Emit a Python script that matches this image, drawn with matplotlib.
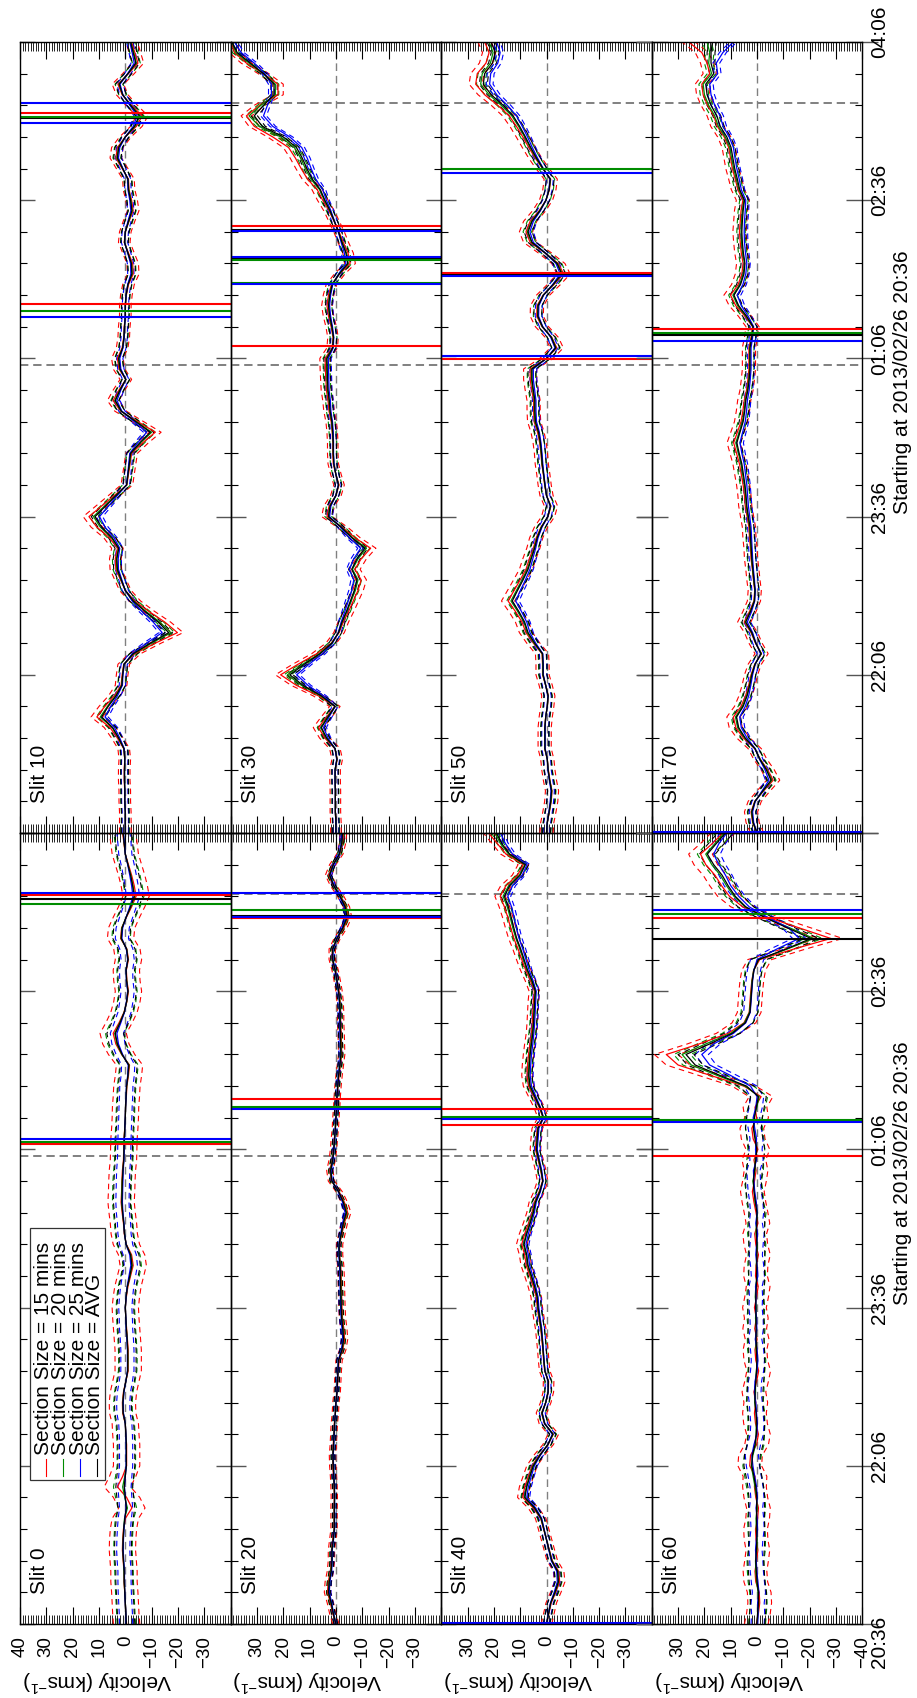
import matplotlib
matplotlib.use("Agg")
import matplotlib.pyplot as plt
from matplotlib.ticker import MultipleLocator
from matplotlib.transforms import blended_transform_factory, offset_copy
from matplotlib.patches import Rectangle
from matplotlib.lines import Line2D
import numpy as np

plt.rcParams['font.family'] = ['Liberation Sans', 'DejaVu Sans']
plt.rcParams['mathtext.fontset'] = 'custom'
plt.rcParams['mathtext.rm'] = 'Liberation Sans'
plt.rcParams['mathtext.it'] = 'Liberation Sans:italic'
plt.rcParams['mathtext.bf'] = 'Liberation Sans:bold'
plt.rcParams['lines.scale_dashes'] = False

# ---------------- data ----------------
minutes = list(range(0, 451, 6))          # minutes after 2013/02/26 20:36
slits = [0, 10, 20, 30, 40, 50, 60, 70]
time_ticks = [0, 90, 180, 270, 360, 450]
time_labels = ['20:36', '22:06', '23:36', '01:06', '02:36', '04:06']
vel_ticks = [40, 30, 20, 10, 0, -10, -20, -30, -40]
vel_labels = ['40', '30', '20', '10', '0', '\u221210', '\u221220', '\u221230', '\u221240']
event_times = [266.0, 415.5]
legend_labels = ['Section Size = 15 mins', 'Section Size = 20 mins',
                 'Section Size = 25 mins', 'Section Size = AVG']

avg_s0 = [-0.4, -0.2, 0.0, 0.2, 0.4, 0.4, 0.7, 0.9, 0.8, 0.6,
          0.2, -0.4, 0.0, 0.4, 0.0, -0.4, -0.4, -0.4, -0.2, 0.0,
          0.8, 0.9, 0.6, -0.2, -0.9, -0.9, -0.9, -0.7, -0.4, -0.2,
          0.0, -0.3, -0.8, -1.7, -2.5, -2.0, -0.3, 0.3, 0.6, 1.0,
          1.3, 1.2, 1.1, 0.9, 0.6, 0.5, 0.4, 0.2, 0.0, -0.1,
          -0.3, -0.5, -1.0, -1.3, 1.2, 3.0, 3.8, 2.0, 0.4, -0.5,
          -1.0, -0.5, -0.3, -1.0, -0.5, 1.5, 1.2, -0.3, -2.0, -3.4,
          -2.8, -2.0, -1.0, 0.0, 0.4, 0.8]
m15_s0 = [-0.5, -0.2, 0.0, 0.2, 0.5, 0.5, 0.8, 1.1, 1.0, 0.7,
          0.0, -2.5, -0.5, 3.0, 1.0, -0.5, -0.5, -0.5, -0.2, 0.0,
          1.0, 1.1, 0.7, -0.2, -1.1, -1.1, -1.1, -0.8, -0.5, -0.2,
          0.0, -0.4, -1.0, -2.0, -3.0, -2.4, -0.4, 0.4, 0.7, 1.2,
          1.6, 1.4, 1.3, 1.1, 0.7, 0.6, 0.5, 0.2, 0.0, -0.1,
          -0.4, -0.6, -1.2, -1.6, 1.4, 3.6, 4.6, 2.4, 0.5, -0.6,
          -1.2, -0.6, -0.4, -1.2, -0.6, 1.8, 1.4, -0.4, -2.4, -4.1,
          -3.4, -2.4, -1.2, 0.0, 0.5, 1.0]
m20_s0 = [-0.4, -0.2, 0.0, 0.2, 0.4, 0.5, 0.7, 0.9, 0.8, 0.6,
          0.3, -0.8, 0.2, 1.0, 0.2, -0.4, -0.4, -0.4, -0.2, 0.0,
          0.8, 0.9, 0.6, -0.2, -0.9, -1.0, -0.9, -0.7, -0.4, -0.2,
          0.0, -0.3, -0.8, -1.8, -2.6, -2.1, -0.3, 0.3, 0.6, 1.0,
          1.4, 1.3, 1.2, 0.9, 0.6, 0.5, 0.4, 0.2, 0.0, -0.1,
          -0.3, -0.5, -1.0, -1.4, 1.3, 3.2, 4.0, 2.1, 0.4, -0.5,
          -1.0, -0.5, -0.3, -1.0, -0.5, 1.6, 1.3, -0.3, -2.1, -3.6,
          -2.9, -2.1, -1.0, 0.0, 0.4, 0.8]
m25_s0 = [-0.3, -0.2, 0.0, 0.2, 0.3, 0.3, 0.6, 0.8, 0.7, 0.5,
          0.2, -0.3, 0.0, 0.3, 0.0, -0.3, -0.3, -0.3, -0.2, 0.0,
          0.7, 0.8, 0.5, -0.2, -0.8, -0.8, -0.8, -0.6, -0.3, -0.2,
          0.0, -0.3, -0.7, -1.4, -2.1, -1.7, -0.3, 0.3, 0.5, 0.9,
          1.1, 1.0, 0.9, 0.8, 0.5, 0.4, 0.3, 0.2, 0.0, -0.1,
          -0.3, -0.4, -0.9, -1.1, 1.0, 2.6, 3.2, 1.7, 0.3, -0.4,
          -0.9, -0.4, -0.3, -0.9, -0.4, 1.3, 1.0, -0.3, -1.7, -2.9,
          -2.4, -1.7, -0.9, 0.0, 0.3, 0.7]

avg_s10 = [0.0, 0.0, 0.0, 0.2, 0.2, 0.3, 0.3, 0.2, 0.5, 2.5,
           4.8, 9.0, 6.5, 3.5, 1.3, 1.0, 0.5, -3.0, -9.5, -16.5,
           -12.5, -7.5, -3.0, 0.0, 1.5, 3.0, 3.2, 2.5, 5.0, 9.0,
           11.5, 7.5, 3.5, -0.5, -1.0, -1.5, -2.0, -5.5, -9.5, -4.0,
           1.5, 3.8, 2.0, -0.2, 2.0, 2.5, 1.0, 0.5, 0.3, 0.0,
           0.0, -0.3, -1.0, -2.5, -2.3, -1.0, 0.3, 0.0, -1.2, -2.5,
           -2.0, -1.2, -1.0, 1.0, 3.0, 2.5, 0.0, -3.5, -5.3, -2.0,
           1.0, 2.3, -1.0, -4.0, -3.0, -2.0]
m15_s10 = [0.0, 0.0, 0.0, 0.2, 0.2, 0.4, 0.4, 0.2, 0.6, 3.0,
           5.8, 10.8, 7.8, 4.2, 1.6, 1.2, 0.6, -3.6, -11.4, -19.8,
           -15.0, -9.0, -3.6, 0.0, 1.8, 3.6, 3.8, 3.0, 6.0, 10.8,
           13.8, 9.0, 4.2, -0.6, -1.2, -1.8, -2.4, -6.6, -11.4, -4.8,
           1.8, 4.6, 2.4, -0.2, 2.4, 3.0, 1.2, 0.6, 0.4, 0.0,
           0.0, -0.4, -1.2, -3.0, -2.8, -1.2, 0.4, 0.0, -1.4, -3.0,
           -2.4, -1.4, -1.2, 1.2, 3.6, 3.0, 0.0, -4.2, -6.4, -2.4,
           1.2, 2.8, -1.2, -4.8, -3.6, -2.4]
m20_s10 = [0.0, 0.0, 0.0, 0.2, 0.2, 0.3, 0.3, 0.2, 0.5, 2.6,
           5.0, 9.5, 6.8, 3.7, 1.4, 1.0, 0.5, -3.2, -10.0, -17.3,
           -13.1, -7.9, -3.2, 0.0, 1.6, 3.2, 3.4, 2.6, 5.3, 9.5,
           12.1, 7.9, 3.7, -0.5, -1.0, -1.6, -2.1, -5.8, -10.0, -4.2,
           1.6, 4.0, 2.1, -0.2, 2.1, 2.6, 1.0, 0.5, 0.3, 0.0,
           0.0, -0.3, -1.0, -2.6, -2.4, -1.0, 0.3, 0.0, -1.3, -2.6,
           -2.1, -1.3, -1.0, 1.0, 3.2, 2.6, 0.0, -3.7, -5.6, -2.1,
           1.0, 2.4, -1.0, -4.2, -3.2, -2.1]
m25_s10 = [0.0, 0.0, 0.0, 0.2, 0.2, 0.3, 0.3, 0.2, 0.4, 2.1,
           4.1, 7.7, 5.5, 3.0, 1.1, 0.9, 0.4, -2.6, -8.1, -14.0,
           -10.6, -6.4, -2.6, 0.0, 1.3, 2.6, 2.7, 2.1, 4.3, 7.7,
           9.8, 6.4, 3.0, -0.4, -0.9, -1.3, -1.7, -4.7, -8.1, -3.4,
           1.3, 3.2, 1.7, -0.2, 1.7, 2.1, 0.9, 0.4, 0.3, 0.0,
           0.0, -0.3, -0.9, -2.1, -2.0, -0.9, 0.3, 0.0, -1.0, -2.1,
           -1.7, -1.0, -0.9, 0.9, 2.6, 2.1, 0.0, -3.0, -4.5, -1.7,
           0.9, 2.0, -0.9, -3.4, -2.6, -1.7]

avg_s20 = [0.0, 1.0, 1.8, 2.8, 2.5, 1.8, 1.5, 1.5, 1.0, 0.6,
           0.6, 0.6, 0.5, 0.6, 0.8, 1.0, 1.1, 0.9, 0.7, 0.5,
           0.2, 0.0, -0.4, -0.6, -0.8, -1.0, -2.3, -2.9, -2.6, -2.2,
           -2.0, -1.9, -1.8, -1.7, -1.6, -1.2, -1.2, -2.0, -2.8, -3.9,
           -2.8, -1.0, 1.5, 2.0, 1.2, 0.8, 0.5, 0.2, 0.0, -0.3,
           -0.4, -0.7, -1.0, -1.5, -1.9, -1.8, -1.7, -1.6, -1.6, -1.4,
           -1.0, -0.4, 0.3, 1.2, 1.2, -0.4, -2.6, -4.2, -3.5, -1.6,
           0.8, 2.4, 1.0, -1.3, -2.2, -2.5]
m15_s20 = [0.0, 1.2, 2.1, 3.2, 2.9, 2.1, 1.7, 1.7, 1.2, 0.7,
           0.7, 0.7, 0.6, 0.7, 0.9, 1.2, 1.3, 1.0, 0.8, 0.6,
           0.2, 0.0, -0.5, -0.7, -0.9, -1.2, -2.6, -3.3, -3.0, -2.5,
           -2.3, -2.2, -2.1, -2.0, -1.8, -1.4, -1.4, -2.3, -3.2, -4.5,
           -3.2, -1.2, 1.7, 2.3, 1.4, 0.9, 0.6, 0.2, 0.0, -0.3,
           -0.5, -0.8, -1.2, -1.7, -2.2, -2.1, -2.0, -1.8, -1.8, -1.6,
           -1.2, -0.5, 0.3, 1.4, 1.4, -0.5, -3.0, -4.8, -4.0, -1.8,
           0.9, 2.8, 1.2, -1.5, -2.5, -2.9]
m20_s20 = [0.0, 1.0, 1.9, 2.9, 2.6, 1.9, 1.6, 1.6, 1.0, 0.6,
           0.6, 0.6, 0.5, 0.6, 0.8, 1.0, 1.2, 0.9, 0.7, 0.5,
           0.2, 0.0, -0.4, -0.6, -0.8, -1.0, -2.4, -3.0, -2.7, -2.3,
           -2.1, -2.0, -1.9, -1.8, -1.7, -1.3, -1.3, -2.1, -2.9, -4.1,
           -2.9, -1.0, 1.6, 2.1, 1.3, 0.8, 0.5, 0.2, 0.0, -0.3,
           -0.4, -0.7, -1.0, -1.6, -2.0, -1.9, -1.8, -1.7, -1.7, -1.5,
           -1.0, -0.4, 0.3, 1.3, 1.3, -0.4, -2.7, -4.4, -3.7, -1.7,
           0.8, 2.5, 1.0, -1.4, -2.3, -2.6]
m25_s20 = [0.0, 0.9, 1.6, 2.5, 2.3, 1.6, 1.4, 1.4, 0.9, 0.5,
           0.5, 0.5, 0.5, 0.5, 0.7, 0.9, 1.0, 0.8, 0.6, 0.5,
           0.2, 0.0, -0.4, -0.5, -0.7, -0.9, -2.1, -2.6, -2.3, -2.0,
           -1.8, -1.7, -1.6, -1.5, -1.4, -1.1, -1.1, -1.8, -2.5, -3.5,
           -2.5, -0.9, 1.4, 1.8, 1.1, 0.7, 0.5, 0.2, 0.0, -0.3,
           -0.4, -0.6, -0.9, -1.4, -1.7, -1.6, -1.5, -1.4, -1.4, -1.3,
           -0.9, -0.4, 0.3, 1.1, 1.1, -0.4, -2.3, -3.8, -3.2, -1.4,
           0.7, 2.2, 0.9, -1.2, -2.0, -2.3]

avg_s30 = [0.0, 0.0, 0.2, 0.2, 0.2, 0.3, 0.3, -0.4, 0.3, 3.5,
           5.5, 3.0, 0.3, 5.5, 12.5, 17.5, 12.0, 6.0, 1.5, -1.0,
           -2.3, -4.0, -5.5, -7.0, -8.0, -6.0, -8.0, -11.0, -6.0, -2.0,
           2.8, 2.2, 0.0, -1.0, 0.0, 0.8, 1.0, 1.0, 1.2, 1.5,
           2.2, 2.5, 3.0, 3.2, 3.3, 3.4, 1.2, 0.9, 1.5, 2.3,
           2.8, 2.3, 1.4, -1.2, -4.5, -3.8, -2.3, -1.0, 0.6, 2.2,
           4.2, 5.9, 9.0, 11.0, 12.8, 15.0, 20.0, 28.0, 31.0, 27.5,
           23.5, 23.5, 27.5, 32.5, 37.5, 39.5]
m15_s30 = [0.0, 0.0, 0.2, 0.2, 0.2, 0.3, 0.3, -0.5, 0.4, 4.2,
           6.6, 3.6, 0.4, 6.6, 15.0, 21.0, 14.4, 7.2, 1.8, -1.2,
           -2.8, -4.8, -6.6, -8.4, -9.6, -7.2, -9.6, -13.2, -7.2, -2.4,
           3.4, 2.6, 0.0, -1.2, 0.0, 1.0, 1.2, 1.2, 1.4, 1.8,
           2.6, 3.0, 3.6, 3.8, 4.0, 4.1, 1.4, 1.1, 1.8, 2.8,
           3.4, 2.8, 1.7, -1.4, -5.4, -4.6, -2.8, -1.2, 0.7, 2.6,
           5.0, 7.1, 10.8, 13.2, 15.4, 18.0, 24.0, 31.0, 34.0, 29.0,
           22.0, 22.0, 27.5, 34.0, 38.5, 39.8]
m20_s30 = [0.0, 0.0, 0.2, 0.2, 0.2, 0.3, 0.3, -0.4, 0.3, 3.7,
           5.8, 3.2, 0.3, 5.8, 13.1, 18.4, 12.6, 6.3, 1.6, -1.0,
           -2.4, -4.2, -5.8, -7.4, -8.4, -6.3, -8.4, -11.6, -6.3, -2.1,
           2.9, 2.3, 0.0, -1.0, 0.0, 0.8, 1.0, 1.0, 1.3, 1.6,
           2.3, 2.6, 3.2, 3.4, 3.5, 3.6, 1.3, 0.9, 1.6, 2.4,
           2.9, 2.4, 1.5, -1.3, -4.7, -4.0, -2.4, -1.0, 0.6, 2.3,
           4.4, 6.2, 9.5, 11.6, 13.4, 15.8, 21.0, 29.0, 33.0, 28.5,
           23.0, 23.0, 27.5, 33.0, 38.0, 39.5]
m25_s30 = [0.0, 0.0, 0.2, 0.2, 0.2, 0.3, 0.3, -0.3, 0.3, 3.0,
           4.7, 2.6, 0.3, 4.7, 10.6, 14.9, 10.2, 5.1, 1.3, -0.9,
           -2.0, -3.4, -4.7, -6.0, -6.8, -5.1, -6.8, -9.4, -5.1, -1.7,
           2.4, 1.9, 0.0, -0.9, 0.0, 0.7, 0.9, 0.9, 1.0, 1.3,
           1.9, 2.1, 2.6, 2.7, 2.8, 2.9, 1.0, 0.8, 1.3, 2.0,
           2.4, 2.0, 1.2, -1.0, -3.8, -3.2, -2.0, -0.9, 0.5, 1.9,
           3.6, 5.0, 7.7, 9.4, 10.9, 13.0, 17.5, 24.0, 27.5, 26.0,
           24.5, 24.5, 27.0, 31.0, 36.0, 38.5]

avg_s40 = [0.0, -0.8, -1.6, -3.2, -4.5, -4.2, -2.0, -1.0, 0.0, 1.0,
           2.0, 4.5, 8.2, 7.5, 6.3, 5.0, 2.5, -0.5, -2.4, 0.7,
           1.7, 0.3, -0.6, -0.7, 0.6, 1.0, 1.3, 1.6, 2.0, 2.6,
           3.2, 3.5, 4.5, 5.7, 7.0, 7.5, 8.5, 7.5, 6.2, 5.0,
           4.2, 2.5, 1.4, 2.0, 2.9, 3.8, 3.5, 3.2, 1.2, 2.5,
           4.4, 6.2, 6.7, 6.5, 6.2, 5.7, 5.2, 4.9, 4.7, 4.5,
           4.2, 5.5, 7.2, 8.5, 9.8, 11.3, 12.4, 13.4, 14.5, 16.0,
           14.0, 10.0, 8.0, 14.0, 17.0, 19.0]
m15_s40 = [0.0, -0.9, -1.8, -3.5, -5.0, -4.6, -2.2, -1.1, 0.0, 1.1,
           2.2, 5.0, 9.0, 8.3, 6.9, 5.5, 2.8, -0.6, -2.6, 0.8,
           1.9, 0.3, -0.7, -0.8, 0.7, 1.1, 1.4, 1.8, 2.2, 2.9,
           3.5, 3.9, 5.0, 6.3, 7.7, 8.3, 9.4, 8.3, 6.8, 5.5,
           4.6, 2.8, 1.5, 2.2, 3.2, 4.2, 3.9, 3.5, 1.3, 2.8,
           4.8, 6.8, 7.4, 7.2, 6.8, 6.3, 5.7, 5.4, 5.2, 5.0,
           4.6, 6.1, 7.9, 9.4, 10.8, 12.4, 13.6, 14.7, 16.0, 17.6,
           15.4, 11.0, 8.8, 15.4, 18.7, 22.0]
m20_s40 = [0.0, -0.8, -1.6, -3.3, -4.6, -4.3, -2.1, -1.0, 0.0, 1.0,
           2.1, 4.6, 8.4, 7.7, 6.5, 5.2, 2.6, -0.5, -2.5, 0.7,
           1.8, 0.3, -0.6, -0.7, 0.6, 1.0, 1.3, 1.6, 2.1, 2.7,
           3.3, 3.6, 4.6, 5.9, 7.2, 7.7, 8.8, 7.7, 6.4, 5.2,
           4.3, 2.6, 1.4, 2.1, 3.0, 3.9, 3.6, 3.3, 1.2, 2.6,
           4.5, 6.4, 6.9, 6.7, 6.4, 5.9, 5.4, 5.0, 4.8, 4.6,
           4.3, 5.7, 7.4, 8.8, 10.1, 11.6, 12.8, 13.8, 14.9, 16.5,
           14.4, 10.3, 8.2, 14.4, 17.5, 19.5]
m25_s40 = [0.0, -0.7, -1.5, -2.9, -4.1, -3.9, -1.8, -0.9, 0.0, 0.9,
           1.8, 4.1, 7.5, 6.9, 5.8, 4.6, 2.3, -0.5, -2.2, 0.6,
           1.6, 0.3, -0.6, -0.6, 0.6, 0.9, 1.2, 1.5, 1.8, 2.4,
           2.9, 3.2, 4.1, 5.2, 6.4, 6.9, 7.8, 6.9, 5.7, 4.6,
           3.9, 2.3, 1.3, 1.8, 2.7, 3.5, 3.2, 2.9, 1.1, 2.3,
           4.0, 5.7, 6.2, 6.0, 5.7, 5.2, 4.8, 4.5, 4.3, 4.1,
           3.9, 5.1, 6.6, 7.8, 9.0, 10.4, 11.4, 12.3, 13.3, 14.7,
           12.9, 9.2, 7.4, 12.9, 15.6, 17.5]

avg_s50 = [0.0, -0.3, -1.0, -1.6, -1.9, -1.2, -0.6, -0.3, 0.6, 0.6,
           0.6, 0.3, -0.3, -0.6, 0.3, 1.3, 1.3, 1.5, 4.5, 7.0,
           8.3, 10.5, 13.0, 11.0, 8.9, 7.0, 5.8, 4.5, 3.5, 1.9,
           -0.5, -1.5, 0.0, 0.6, 1.1, 1.6, 1.9, 2.3, 3.0, 4.2,
           4.4, 4.4, 5.0, 5.5, 5.5, 0.0, -3.5, -1.8, 1.5, 3.3,
           3.2, 1.2, -2.5, -5.8, -4.0, 0.5, 5.5, 7.0, 5.5, 2.5,
           0.2, -1.0, -1.4, 1.3, 3.8, 6.0, 8.0, 10.2, 12.7, 16.5,
           21.0, 24.0, 23.5, 20.5, 19.5, 21.0]
m15_s50 = [0.0, -0.3, -1.1, -1.8, -2.1, -1.3, -0.7, -0.3, 0.7, 0.7,
           0.7, 0.3, -0.3, -0.7, 0.3, 1.5, 1.5, 1.7, 5.0, 7.8,
           9.3, 11.8, 14.6, 12.3, 10.0, 7.8, 6.5, 5.0, 3.9, 2.1,
           -0.6, -1.7, 0.0, 0.7, 1.2, 1.8, 2.1, 2.6, 3.4, 4.7,
           4.9, 4.9, 5.6, 6.2, 6.2, 0.0, -3.9, -2.0, 1.7, 3.7,
           3.6, 1.3, -2.8, -6.5, -4.5, 0.6, 6.2, 7.8, 6.2, 2.8,
           0.2, -1.1, -1.6, 1.5, 4.3, 6.7, 9.0, 11.4, 14.2, 18.5,
           23.5, 26.9, 26.3, 23.0, 21.8, 23.5]
m20_s50 = [0.0, -0.3, -1.0, -1.7, -2.0, -1.2, -0.6, -0.3, 0.6, 0.6,
           0.6, 0.3, -0.3, -0.6, 0.3, 1.4, 1.4, 1.6, 4.7, 7.3,
           8.6, 10.9, 13.5, 11.4, 9.3, 7.3, 6.0, 4.7, 3.6, 2.0,
           -0.5, -1.6, 0.0, 0.6, 1.1, 1.7, 2.0, 2.4, 3.1, 4.4,
           4.6, 4.6, 5.2, 5.7, 5.7, 0.0, -3.6, -1.9, 1.6, 3.4,
           3.3, 1.2, -2.6, -6.0, -4.2, 0.5, 5.7, 7.3, 5.7, 2.6,
           0.2, -1.0, -1.5, 1.4, 4.0, 6.2, 8.3, 10.6, 13.2, 17.2,
           21.8, 25.0, 24.4, 21.3, 20.3, 21.8]
m25_s50 = [0.0, -0.3, -0.9, -1.4, -1.7, -1.1, -0.5, -0.3, 0.5, 0.5,
           0.5, 0.3, -0.3, -0.5, 0.3, 1.2, 1.2, 1.4, 4.1, 6.3,
           7.5, 9.5, 11.7, 9.9, 8.0, 6.3, 5.2, 4.1, 3.2, 1.7,
           -0.5, -1.4, 0.0, 0.5, 1.0, 1.4, 1.7, 2.1, 2.7, 3.8,
           4.0, 4.0, 4.5, 5.0, 5.0, 0.0, -3.2, -1.6, 1.4, 3.0,
           2.9, 1.1, -2.3, -5.2, -3.6, 0.5, 5.0, 6.3, 5.0, 2.3,
           0.2, -0.9, -1.3, 1.2, 3.4, 5.4, 7.2, 9.2, 11.4, 14.9,
           18.9, 21.6, 21.2, 18.5, 17.6, 18.9]

avg_s60 = [0.1, -0.2, -0.5, -0.5, 0.0, 0.3, 0.5, 0.3, 0.1, 0.1,
           0.2, 0.2, 0.1, 0.5, 1.2, 2.0, 1.8, 0.8, 0.3, 0.1,
           0.4, 0.8, 0.8, 0.5, 0.2, 0.1, 0.2, 0.4, 0.4, 0.4,
           0.5, 0.5, 0.3, 0.2, 0.1, 0.1, 0.1, 0.2, 0.1, 0.1,
           0.6, 1.2, 1.4, 1.0, 0.5, 0.1, 0.8, 1.4, 1.0, 0.3,
           -0.5, 4.0, 14.0, 23.5, 27.0, 18.0, 9.5, 4.5, 2.7, 2.4,
           2.1, 1.8, 1.2, -0.5, -11.0, -20.5, -11.5, -2.8, 4.3, 8.3,
           11.0, 13.3, 16.5, 18.9, 15.5, 12.0]
m15_s60 = [0.3, -0.5, -1.0, -0.8, 0.5, 0.8, 0.2, -0.3, 0.4, 0.6,
           -0.2, -0.5, 0.5, 1.0, 0.8, 2.8, 2.5, 0.2, -0.5, 0.6,
           1.0, 0.5, 1.2, 0.2, -0.6, 0.5, 0.8, 0.0, 0.9, 0.3,
           1.0, 0.2, -0.4, 0.6, 0.4, -0.5, 0.5, 0.9, -0.3, 0.4,
           1.2, 1.8, 1.0, 0.4, 1.2, -0.3, 1.5, 2.0, 0.2, 0.8,
           -1.5, 5.0, 17.5, 30.0, 34.5, 22.0, 11.0, 5.0, 3.0, 2.7,
           2.4, 2.0, 1.3, -1.0, -14.0, -28.0, -16.0, -4.0, 5.5, 10.5,
           13.5, 16.0, 19.5, 21.5, 17.0, 13.0]
m20_s60 = [0.0, -0.3, -0.6, -0.4, 0.2, 0.5, 0.6, 0.1, 0.0, 0.3,
           0.4, 0.0, 0.2, 0.8, 1.5, 2.2, 1.6, 0.6, 0.4, 0.3,
           0.3, 0.9, 0.6, 0.6, 0.3, -0.1, 0.4, 0.5, 0.2, 0.6,
           0.3, 0.7, 0.5, 0.0, 0.3, 0.2, -0.1, 0.4, 0.3, -0.2,
           0.8, 1.0, 1.6, 0.8, 0.7, 0.3, 0.6, 1.2, 1.3, 0.1,
           -0.8, 4.5, 15.0, 25.0, 28.5, 19.5, 10.0, 4.8, 2.9, 2.5,
           2.2, 1.9, 1.3, -0.6, -11.5, -21.5, -12.5, -3.0, 4.6, 8.8,
           11.6, 14.0, 17.2, 19.5, 16.0, 12.5]
m25_s60 = [-0.2, -0.4, -0.2, -0.7, -0.3, 0.1, 0.3, 0.6, 0.3, -0.2,
           0.0, 0.4, -0.1, 0.2, 0.9, 1.6, 2.0, 1.2, 0.1, -0.1,
           0.2, 0.5, 1.0, 0.8, 0.0, -0.3, 0.0, 0.7, 0.1, 0.2,
           0.6, 0.4, 0.6, -0.3, 0.0, 0.5, 0.2, -0.2, 0.5, 0.0,
           0.3, 0.9, 1.2, 1.4, 0.2, 0.6, 0.2, 0.9, 1.5, 0.5,
           0.0, 2.5, 10.0, 18.0, 21.0, 16.5, 9.0, 4.3, 2.6, 2.3,
           2.0, 1.7, 1.2, 0.0, -7.5, -16.0, -12.0, -4.0, 3.0, 7.0,
           10.0, 12.0, 14.5, 16.5, 14.5, 11.5]

avg_s70 = [0.0, 1.5, 2.0, 0.8, -2.2, -5.3, -3.5, -1.0, 0.8, 4.5,
           7.0, 7.8, 5.3, 3.8, 2.8, 2.0, 0.8, -1.5, 0.5, 2.0,
           4.3, 2.5, 1.0, 0.8, 1.2, 1.6, 2.0, 2.2, 2.5, 2.7,
           3.3, 3.9, 4.2, 4.6, 5.2, 5.8, 6.8, 7.7, 6.5, 5.3,
           4.7, 4.3, 3.5, 3.0, 2.7, 2.7, 2.7, 2.0, 1.5, 4.0,
           7.0, 8.8, 6.3, 5.0, 4.6, 5.2, 5.6, 5.8, 5.6, 5.3,
           4.8, 6.6, 7.5, 8.5, 9.2, 9.9, 11.5, 14.0, 15.3, 17.5,
           19.0, 19.5, 16.5, 17.5, 17.5, 17.0]
m15_s70 = [0.0, 1.7, 2.3, 0.9, -2.5, -6.1, -4.0, -1.2, 0.9, 5.2,
           8.1, 9.0, 6.1, 4.4, 3.2, 2.3, 0.9, -1.7, 0.6, 2.3,
           4.9, 2.9, 1.2, 0.9, 1.4, 1.8, 2.3, 2.5, 2.9, 3.1,
           3.8, 4.5, 4.8, 5.3, 6.0, 6.7, 7.8, 8.9, 7.5, 6.1,
           5.4, 4.9, 4.0, 3.5, 3.1, 3.1, 3.1, 2.3, 1.7, 4.6,
           8.1, 10.1, 7.2, 5.8, 5.3, 6.0, 6.4, 6.7, 6.4, 6.1,
           5.4, 7.3, 8.3, 9.4, 10.1, 10.8, 12.5, 15.1, 16.5, 18.8,
           20.5, 21.0, 18.0, 19.0, 21.0, 26.0]
m20_s70 = [0.0, 1.6, 2.1, 0.8, -2.3, -5.6, -3.7, -1.1, 0.8, 4.7,
           7.4, 8.2, 5.6, 4.0, 2.9, 2.1, 0.8, -1.6, 0.5, 2.1,
           4.5, 2.6, 1.1, 0.8, 1.3, 1.7, 2.1, 2.3, 2.6, 2.8,
           3.5, 4.1, 4.4, 4.8, 5.5, 6.1, 7.1, 8.1, 6.8, 5.6,
           4.9, 4.5, 3.7, 3.2, 2.8, 2.8, 2.8, 2.1, 1.6, 4.2,
           7.4, 9.2, 6.6, 5.3, 4.8, 5.5, 5.9, 6.1, 5.9, 5.6,
           5.0, 6.9, 7.9, 8.9, 9.7, 10.4, 12.1, 14.7, 16.1, 18.4,
           20.0, 20.5, 17.3, 18.4, 18.0, 19.0]
m25_s70 = [0.0, 1.3, 1.7, 0.7, -1.9, -4.5, -3.0, -0.9, 0.7, 3.8,
           6.0, 6.6, 4.5, 3.2, 2.4, 1.7, 0.7, -1.3, 0.4, 1.7,
           3.7, 2.1, 0.9, 0.7, 1.0, 1.4, 1.7, 1.9, 2.1, 2.3,
           2.8, 3.3, 3.6, 3.9, 4.4, 4.9, 5.8, 6.5, 5.5, 4.5,
           4.0, 3.7, 3.0, 2.6, 2.3, 2.3, 2.3, 1.7, 1.3, 3.4,
           6.0, 7.5, 5.4, 4.3, 3.9, 4.4, 4.8, 4.9, 4.8, 4.5,
           4.3, 6.0, 6.8, 7.7, 8.4, 9.0, 10.6, 12.9, 14.1, 16.1,
           17.5, 18.0, 15.0, 15.5, 13.0, 9.0]

# half-widths of the dashed error envelopes, one per slit (order of `slits`)
err15 = [5.0, 2.2, 1.2, 2.0, 2.0, 2.5, 4.5, 2.5]
err20 = [3.5, 1.5, 0.7, 1.3, 1.3, 1.6, 3.2, 1.6]
err25 = [2.5, 1.2, 0.6, 1.1, 1.1, 1.3, 2.5, 1.3]
erravg = [3.2, 1.4, 0.7, 1.2, 1.2, 1.5, 3.0, 1.5]

# times (minutes after 20:36) of the solid marker lines, one list per slit
cut15 = [[414.9, 273.0], [409.6, 300.8], [401.5, 298.6], [345.4, 277.0],
         [293.0, 283.9], [318.8, 269.4], [401.6, 266.2], [286.5]]
cut20 = [[409.7, 274.0], [407.5, 297.1], [406.0, 294.3], [326.0, 313.1],
         [288.6], [377.6], [404.1, 286.7], [284.6]]
cut25 = [[415.8, 275.7], [415.3, 404.0, 293.5], [415.8, 402.2, 293.0],
         [342.5, 327.7, 312.3], [287.4, 0.4], [375.2, 317.0, 271.1],
         [406.0, 285.8], [279.9, 0.4]]
cutavg = [[412.6], [406.5], [403.0], [342.8, 326.5], [288.0], [317.6],
          [389.8], [283.3]]

series = {
    0: (m15_s0, m20_s0, m25_s0, avg_s0),
    10: (m15_s10, m20_s10, m25_s10, avg_s10),
    20: (m15_s20, m20_s20, m25_s20, avg_s20),
    30: (m15_s30, m20_s30, m25_s30, avg_s30),
    40: (m15_s40, m20_s40, m25_s40, avg_s40),
    50: (m15_s50, m20_s50, m25_s50, avg_s50),
    60: (m15_s60, m20_s60, m25_s60, avg_s60),
    70: (m15_s70, m20_s70, m25_s70, avg_s70),
}

# ---------------- layout ----------------
W, H = 917, 1699
fig = plt.figure(figsize=(W / 100, H / 100), dpi=100)
fig.patch.set_facecolor('white')

col_left = [20.0, 230.6, 441.2, 651.8]
col_w = 210.6
row_top = [43.0, 834.0]
row_h = 791.0
layout = {10: (0, 0), 30: (0, 1), 50: (0, 2), 70: (0, 3),
          0: (1, 0), 20: (1, 1), 40: (1, 2), 60: (1, 3)}

RED, GREEN, BLUE, BLACK, GREY = '#ff0000', '#008c00', '#0000ff', '#000000', '#808080'
colors = [RED, GREEN, BLUE, BLACK]
FS = 15


def px_off(trans, dx, dy):
    return offset_copy(trans, fig=fig, x=dx, y=dy, units='dots')


t = np.array(minutes, dtype=float)

for k, slit in enumerate(slits):
    r, c = layout[slit]
    left = col_left[c]
    top = row_top[r]
    ax = fig.add_axes([left / W, (H - top - row_h) / H, col_w / W, row_h / H])
    ax.patch.set_visible(False)
    ax.set_xlim(40, -40)
    ax.set_ylim(0, 450)

    # reference lines
    ax.axvline(0, color=GREY, lw=1.0, dashes=(5.5, 3.5), zorder=1)
    for et in event_times:
        ax.axhline(et, color=GREY, lw=1.4, dashes=(6, 3.5), zorder=1)

    vals = series[slit]
    errs = [err15[k], err20[k], err25[k], erravg[k]]
    # dashed envelopes
    for v, col, e in zip(vals, colors, errs):
        a = np.array(v, dtype=float)
        n = min(len(a), len(t))
        ax.plot(a[:n] + e, t[:n], color=col, lw=0.8, dashes=(4, 3), zorder=2)
        ax.plot(a[:n] - e, t[:n], color=col, lw=0.8, dashes=(4, 3), zorder=2)
    # solid series
    for v, col in zip(vals, colors):
        a = np.array(v, dtype=float)
        n = min(len(a), len(t))
        ax.plot(a[:n], t[:n], color=col, lw=0.9, zorder=3)

    # marker lines
    for cuts, col in ((cutavg, BLACK), (cut15, RED), (cut20, GREEN), (cut25, BLUE)):
        for ct in cuts[k]:
            ax.axhline(ct, color=col, lw=1.5, zorder=4)

    # ticks
    ax.xaxis.set_major_locator(MultipleLocator(10))
    ax.xaxis.set_minor_locator(MultipleLocator(1))
    ax.yaxis.set_major_locator(MultipleLocator(90))
    ax.yaxis.set_minor_locator(MultipleLocator(18))
    ax.tick_params(axis='both', which='both', direction='in', top=True, bottom=True,
                   left=True, right=True, labelbottom=False, labelleft=False,
                   labeltop=False, labelright=False)
    ax.tick_params(axis='x', which='major', length=12, width=0.8)
    ax.tick_params(axis='x', which='minor', length=6.5, width=0.6)
    ax.tick_params(axis='y', which='major', length=10.8, width=1.0, color='#555555')
    ax.tick_params(axis='y', which='minor', length=5, width=0.8)
    if c == 3:
        ax.tick_params(axis='y', which='major', direction='inout', length=23)
    for s in ax.spines.values():
        s.set_linewidth(1.0)
        s.set_zorder(5)

    # slit label
    ax.text(0, 0, f'Slit {slit}', transform=px_off(ax.transAxes, 10, 31),
            rotation=90, ha='left', va='bottom', fontsize=FS, zorder=6)

    # velocity tick labels + label (bottom row = original left axis)
    if r == 1:
        btrans = blended_transform_factory(ax.transData, ax.transAxes)
        for v, lab in zip(vel_ticks, vel_labels):
            if c == 0 and v == -40:
                continue
            if c in (1, 2) and abs(v) == 40:
                continue
            if c == 3 and v == 40:
                continue
            ax.text(v, 0, lab, transform=px_off(btrans, 0, -11), rotation=90,
                    ha='center', va='top', fontsize=13.5, clip_on=False)
        ax.text(0.5, 0, r'Velocity (kms$^{-1}$)', transform=px_off(ax.transAxes, -28, -56),
                rotation=180, ha='center', va='center', fontsize=FS)

    # time tick labels + label (right column = original bottom axis)
    if c == 3:
        ttrans = blended_transform_factory(ax.transAxes, ax.transData)
        for tt, lab in zip(time_ticks, time_labels):
            if r == 0 and tt == 0:
                continue
            if r == 1 and tt == 450:
                continue
            dy = -17 if tt == 0 else 11
            ax.text(1, tt, lab, transform=px_off(ttrans, 17.5, dy), rotation=90,
                    ha='center', va='center', fontsize=FS, clip_on=False)
        ax.text(1, 0.5, 'Starting at 2013/02/26 20:36', transform=px_off(ax.transAxes, 40, 56),
                rotation=90, ha='center', va='center', fontsize=FS)

    # legend (in Slit 0 panel)
    if slit == 0:
        fx = lambda p: p / col_w
        fy = lambda p: p / row_h
        ax.add_patch(Rectangle((fx(10), fy(144)), fx(75), fy(252), transform=ax.transAxes,
                               facecolor='white', edgecolor='#333333', lw=0.9, zorder=7))
        text_x = [23.5, 40.5, 58.0, 74.5]
        for lab, col, xp in zip(legend_labels, colors, text_x):
            ax.add_line(Line2D([fx(xp + 2), fx(xp + 2)], [fy(148), fy(165)],
                               transform=ax.transAxes, color=col, lw=0.8, zorder=8))
            ax.text(fx(xp), fy(170), lab, transform=ax.transAxes, rotation=90,
                    ha='center', va='bottom', fontsize=FS, zorder=8)

fig.savefig('out.png', dpi=100)
